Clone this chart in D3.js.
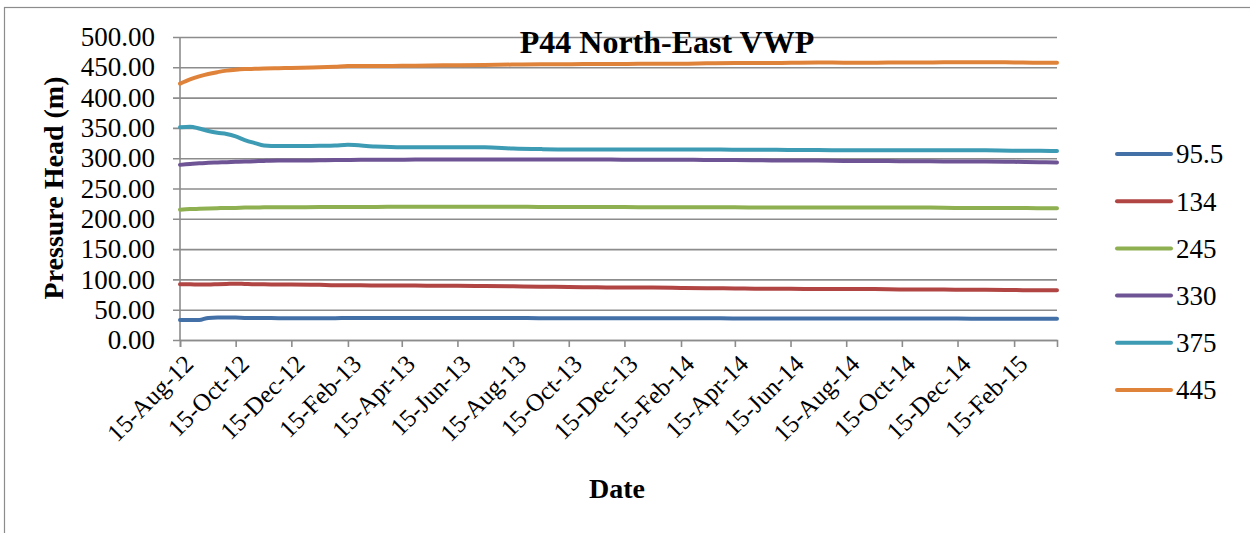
<!DOCTYPE html>
<html>
<head>
<meta charset="utf-8">
<script src="https://cdn.jsdelivr.net/npm/d3@7"></script>
<style>
  body { margin: 0; background: #fff; }
  svg { display: block; font-family: "Liberation Serif", "Times New Roman", serif; }
</style>
</head>
<body>
<div id="chart"></div>
<script>
// Data
const dates = ['2012-08-15','2012-08-26','2012-09-05','2012-09-15','2012-09-25','2012-10-05','2012-10-15',
  '2012-10-25','2012-11-05','2012-11-15','2012-12-01','2012-12-15','2013-01-15','2013-02-01','2013-02-15',
  '2013-03-15','2013-04-15','2013-05-15','2013-06-15','2013-07-15','2013-08-15','2013-09-15','2013-10-15',
  '2013-11-15','2013-12-15','2014-01-15','2014-02-15','2014-03-15','2014-04-15','2014-05-15','2014-06-15',
  '2014-07-15','2014-08-15','2014-09-15','2014-10-15','2014-11-15','2014-12-15','2015-01-15','2015-02-15',
  '2015-03-15','2015-04-03'];

const s95 = [33,33,33,36.5,37,37,37,36.5,36.5,36.5,36,36,36,36,36.5,36.5,36.5,36.5,36.5,36.5,36.5,36,36,36,36,
  36,36,36,35.5,35.5,35.5,35.5,35.5,35.5,35.5,35.5,35.5,35,35,35,35];
const s134 = [92,92,91.5,91.5,92,92.5,93,92.5,92,92,91.5,91.5,91,90.5,90.5,90,90,89.5,89.5,89,88.5,88,87.5,87,
  86.5,86.5,86,85.5,85,84.5,84.5,84,84,84,83.5,83.5,83,83,82.5,82,82];
const s245 = [215,216,216.5,217,217.5,218,218,218.5,218.5,219,219,219,219.5,219.5,219.5,219.5,220,220,220,220,
  220,219.5,219.5,219.5,219.5,219,219,219,219,218.5,218.5,218.5,218.5,218.5,218.5,218.5,218,218,218,217.5,217.5];
const s330 = [289,290.5,291.5,292.5,293,293.5,294,294.5,295,295.5,296,296,296.5,297,297,297.5,297.5,298,298,298,
  298,298,298,298,297.5,297.5,297.5,297,297,296.5,296,296,295.5,295.5,295,295,294.5,294.5,294,293.5,293];
const s375 = [351,352,349,345,342,340,336,330,325,321,320,320,320.5,321,322,319.5,318,318,318,318,316,315,314.5,314.5,
  314.5,314.5,314.5,314.5,314,314,313.5,313.5,313,313,313,313,313,313,312.5,312.5,312];
const s445 = [423,430,435,439,442,444.5,446,447,447.5,448,448.5,449,450,451,452,452,452.5,453,453.5,454,454.5,455,
  455,455.5,455.5,456,456,456.5,457,457,457.5,458,457.5,457.5,458,458,458.5,458.5,458,457.5,457.5];

const seriesNames = ['95.5', '134', '245', '330', '375', '445'];
const seriesValues = [s95, s134, s245, s330, s375, s445];
const seriesColors = ['#4470A8', '#B04544', '#8FB050', '#6E5494', '#3E9BB4', '#E0833A'];

const xTickLabels = ['15-Aug-12','15-Oct-12','15-Dec-12','15-Feb-13','15-Apr-13','15-Jun-13','15-Aug-13',
  '15-Oct-13','15-Dec-13','15-Feb-14','15-Apr-14','15-Jun-14','15-Aug-14','15-Oct-14','15-Dec-14','15-Feb-15'];
const yTicks = [0, 50, 100, 150, 200, 250, 300, 350, 400, 450, 500];

// Layout
const W = 1250, H = 533;
const margin = { top: 37, left: 180 };
const width = 877, height = 303;

const svg = d3.select('#chart').append('svg')
  .attr('width', W).attr('height', H);

// chart area border
svg.append('rect')
  .attr('x', 4.5).attr('y', 7.5)
  .attr('width', 1300).attr('height', 600)
  .attr('fill', 'none').attr('stroke', '#8c8c8c').attr('stroke-width', 1.2);

const g = svg.append('g').attr('transform', `translate(${margin.left},${margin.top})`);

const parseDate = d3.utcParse('%Y-%m-%d');
const parseTick = d3.utcParse('%d-%b-%y');
const fmtTick = d3.utcFormat('%d-%b-%y');

const x = d3.scaleUtc()
  .domain([parseDate(dates[0]), parseDate(dates[dates.length - 1])])
  .range([0, width]);

const y = d3.scaleLinear().domain([0, 500]).range([height, 0]);

// Gridlines + Y axis
const yAxis = g.append('g')
  .call(d3.axisLeft(y).tickValues(yTicks).tickSize(-width).tickFormat(d3.format('.2f')).tickPadding(25));
yAxis.select('.domain').remove();
yAxis.selectAll('.tick line')
  .attr('x1', -7)
  .attr('stroke', '#8c8c8c').attr('stroke-width', 1.6);
yAxis.selectAll('.tick text')
  .attr('font-size', 27).attr('fill', '#000')
  .attr('font-family', '"Liberation Serif", serif');

g.append('line')
  .attr('x1', 0).attr('x2', 0).attr('y1', 0).attr('y2', height)
  .attr('stroke', '#8c8c8c').attr('stroke-width', 1.6);

// X axis
const xAxis = g.append('g')
  .attr('transform', `translate(0,${height})`)
  .call(d3.axisBottom(x).tickValues(xTickLabels.map(parseTick)).tickSize(7).tickFormat(fmtTick));
xAxis.select('.domain').attr('stroke', '#8c8c8c').attr('stroke-width', 1.6);
xAxis.selectAll('.tick line').attr('stroke', '#8c8c8c').attr('stroke-width', 1.6);
xAxis.selectAll('.tick text')
  .attr('font-size', 25).attr('fill', '#000')
  .attr('font-family', '"Liberation Serif", serif')
  .attr('text-anchor', 'end')
  .attr('transform', 'translate(2,13) rotate(-45)')
  .attr('dy', '0.7em')
  .attr('y', 0);

// Lines
const line = d3.line()
  .x((d, i) => x(parseDate(dates[i])))
  .y(d => y(d))
  .curve(d3.curveMonotoneX);

g.selectAll('.series')
  .data(seriesValues)
  .enter()
  .append('path')
  .attr('class', 'series')
  .attr('d', d => line(d))
  .attr('fill', 'none')
  .attr('stroke', (d, i) => seriesColors[i])
  .attr('stroke-width', 4)
  .attr('stroke-linejoin', 'round')
  .attr('stroke-linecap', 'round');

// Title
svg.append('text')
  .attr('x', 667).attr('y', 53)
  .attr('text-anchor', 'middle')
  .attr('font-size', 32).attr('font-weight', 'bold')
  .text('P44 North-East VWP');

// Axis titles
svg.append('text')
  .attr('transform', 'translate(63,188) rotate(-90)')
  .attr('text-anchor', 'middle')
  .attr('font-size', 28).attr('font-weight', 'bold')
  .text('Pressure Head (m)');

svg.append('text')
  .attr('x', 617).attr('y', 498)
  .attr('text-anchor', 'middle')
  .attr('font-size', 28).attr('font-weight', 'bold')
  .text('Date');

// Legend
const legend = svg.append('g').attr('transform', 'translate(1117,154)');
const item = legend.selectAll('.item')
  .data(seriesNames)
  .enter()
  .append('g')
  .attr('transform', (d, i) => `translate(0,${i * 47.2})`);
item.append('line')
  .attr('x1', 0).attr('x2', 54)
  .attr('stroke', (d, i) => seriesColors[i])
  .attr('stroke-width', 4)
  .attr('stroke-linecap', 'round');
item.append('text')
  .attr('x', 59).attr('dy', '0.35em')
  .attr('font-size', 27)
  .text(d => d);
</script>
</body>
</html>
